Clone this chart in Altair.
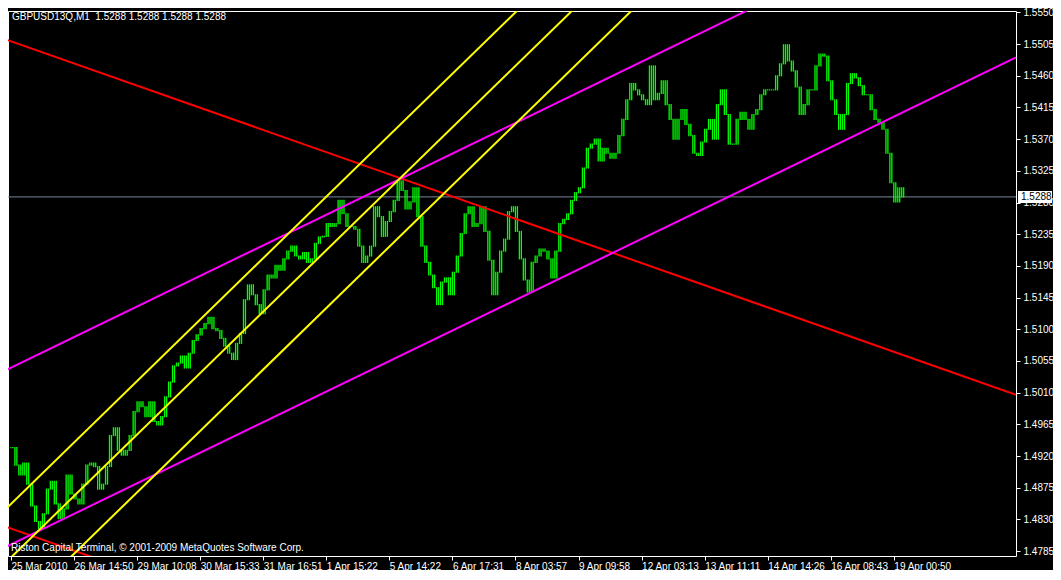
import altair as alt
import pandas as pd

# ---------------- data ----------------
symbol_text = "GBPUSD13Q,M1\u00a0\u00a01.5288 1.5288 1.5288 1.5288"
copyright_text = "Riston Capital Terminal, \u00a9 2001-2009 MetaQuotes Software Corp."
bid_price = 1.5288

# closes, one every 2 bars
closes = [
    1.4932, 1.4907, 1.4893, 1.4910, 1.4880, 1.4849, 1.4827, 1.4817, 1.4838, 1.4873,
    1.4884, 1.4852, 1.4831, 1.4845, 1.4893, 1.4866, 1.4859, 1.4852, 1.4880, 1.4907,
    1.4910, 1.4905, 1.4873, 1.4880, 1.4905, 1.4949, 1.4960, 1.4928, 1.4921, 1.4928,
    1.4949, 1.4983, 1.4997, 1.4990, 1.4976, 1.4997, 1.4969, 1.4964, 1.4976, 1.5004,
    1.5025, 1.5048, 1.5052, 1.5062, 1.5045, 1.5066, 1.5084, 1.5092, 1.5101, 1.5108,
    1.5117, 1.5101, 1.5098, 1.5087, 1.5076, 1.5066, 1.5057, 1.5080, 1.5094, 1.5142,
    1.5163, 1.5149, 1.5135, 1.5122, 1.5156, 1.5177, 1.5173, 1.5191, 1.5184, 1.5200,
    1.5211, 1.5218, 1.5204, 1.5200, 1.5209, 1.5195, 1.5200, 1.5222, 1.5231, 1.5232,
    1.5250, 1.5246, 1.5250, 1.5283, 1.5264, 1.5246, 1.5246, 1.5242, 1.5218, 1.5195,
    1.5204, 1.5218, 1.5274, 1.5260, 1.5232, 1.5253, 1.5267, 1.5283, 1.5311, 1.5297,
    1.5271, 1.5281, 1.5301, 1.5260, 1.5218, 1.5195, 1.5177, 1.5159, 1.5135, 1.5167,
    1.5173, 1.5149, 1.5181, 1.5204, 1.5236, 1.5264, 1.5274, 1.5246, 1.5250, 1.5274,
    1.5239, 1.5198, 1.5149, 1.5181, 1.5211, 1.5228, 1.5267, 1.5274, 1.5239, 1.5200,
    1.5170, 1.5153, 1.5195, 1.5204, 1.5214, 1.5211, 1.5200, 1.5173, 1.5211, 1.5250,
    1.5256, 1.5264, 1.5283, 1.5294, 1.5301, 1.5329, 1.5357, 1.5363, 1.5370, 1.5339,
    1.5357, 1.5350, 1.5343, 1.5350, 1.5375, 1.5398, 1.5426, 1.5449, 1.5440, 1.5433,
    1.5426, 1.5419, 1.5474, 1.5426, 1.5435, 1.5453, 1.5419, 1.5398, 1.5370, 1.5398,
    1.5412, 1.5391, 1.5375, 1.5350, 1.5347, 1.5366, 1.5384, 1.5398, 1.5370, 1.5419,
    1.5440, 1.5405, 1.5363, 1.5363, 1.5398, 1.5408, 1.5398, 1.5384, 1.5405, 1.5412,
    1.5433, 1.5440, 1.5440, 1.5440, 1.5460, 1.5477, 1.5504, 1.5481, 1.5467, 1.5444,
    1.5405, 1.5419, 1.5440, 1.5440, 1.5474, 1.5491, 1.5488, 1.5453, 1.5426, 1.5405,
    1.5384, 1.5405, 1.5449, 1.5463, 1.5457, 1.5446, 1.5433, 1.5433, 1.5412, 1.5398,
    1.5394, 1.5384, 1.5350, 1.5308, 1.5281, 1.5301, 1.5288,
]
bar_step = 2  # each listed close covers two chart bars

time_labels = [
    "25 Mar 2010", "26 Mar 14:50", "29 Mar 10:08", "30 Mar 15:33", "31 Mar 16:51",
    "1 Apr 15:22", "5 Apr 14:22", "6 Apr 17:31", "8 Apr 03:57", "9 Apr 09:58",
    "12 Apr 03:13", "13 Apr 11:11", "14 Apr 14:26", "16 Apr 08:43", "19 Apr 00:50",
]
label_every = 32

price_ticks = [
    1.4785, 1.4830, 1.4875, 1.4920, 1.4965, 1.5010, 1.5055, 1.5100, 1.5145,
    1.5190, 1.5235, 1.5280, 1.5325, 1.5370, 1.5415, 1.5460, 1.5505, 1.5550,
]

# trend-line objects: two anchor points each (bar, price)
line_names = ["red_upper", "red_lower", "magenta_upper", "magenta_lower",
              "yellow_1", "yellow_2", "yellow_3"]
line_bar_a = [-4, -4, -4, -4, -4, -4, -4]
line_price_a = [1.5513, 1.4821, 1.5040, 1.4789, 1.4841, 1.4765, 1.4683]
line_bar_b = [510, 510, 510, 510, 300, 300, 350]
line_price_b = [1.5007, 1.4315, 1.5738, 1.5486, 1.5670, 1.5594, 1.5648]
line_colors = ["#ff0000", "#ff0000", "#ff00ff", "#ff00ff",
               "#ffff00", "#ffff00", "#ffff00"]

# ---------------- tables ----------------
prev = [closes[0]] + closes[:-1]
half_px = 0.00008
rows = []
for i, (a, b) in enumerate(zip(prev, closes)):
    lo = min(a, b) - half_px
    hi = max(a, b) + half_px
    for k in range(bar_step):
        rows.append({"bar": bar_step * i + k, "lo": lo, "hi": hi})
price_df = pd.DataFrame(rows)

lines_df = pd.DataFrame({
    "name": line_names + line_names,
    "bar": line_bar_a + line_bar_b,
    "price": line_price_a + line_price_b,
})

# ---------------- layout ----------------
W, H = 1008, 545
FONT = "Liberation Sans"
FS = 10

x_scale = alt.Scale(domain=[-1.5, 510], nice=False, zero=False)
y_scale = alt.Scale(domain=[1.4778, 1.5552], nice=False, zero=False)

label_array = "[" + ",".join("'" + t + "'" for t in time_labels) + "]"
x_axis = alt.Axis(
    values=[label_every * i for i in range(len(time_labels))],
    labelExpr=label_array + "[round(datum.value/" + str(label_every) + ")]",
    orient="bottom", title=None, grid=False, domain=False,
    tickColor="white", tickSize=4, labelColor="white", labelAlign="left",
    labelBaseline="top", labelPadding=1, labelFont=FONT, labelFontSize=FS,
    labelOverlap=False, labelFlush=False, labelBound=False,
)
y_axis = alt.Axis(
    values=price_ticks, format=".4f", orient="right", title=None, grid=False,
    domain=False, tickColor="white", tickSize=4, labelColor="white",
    labelPadding=3, labelFont=FONT, labelFontSize=FS, labelOverlap=False,
    labelFlush=False, labelBound=False,
)

bid_line = alt.Chart(pd.DataFrame({"p": [bid_price]})).mark_rule(
    color="#778899", strokeWidth=1
).encode(y=alt.Y("p:Q", scale=y_scale, axis=y_axis))

bars = alt.Chart(price_df).mark_rule(color="#00ff00", strokeWidth=1.3).encode(
    x=alt.X("bar:Q", scale=x_scale, axis=x_axis),
    y=alt.Y("lo:Q", scale=y_scale, axis=y_axis),
    y2="hi:Q",
)

trend = alt.Chart(lines_df).mark_line(clip=True, strokeWidth=2).encode(
    x=alt.X("bar:Q", scale=x_scale, axis=x_axis),
    y=alt.Y("price:Q", scale=y_scale, axis=y_axis),
    color=alt.Color("name:N", scale=alt.Scale(domain=line_names, range=line_colors), legend=None),
    detail="name:N",
)

box_half = 0.00085
bid_box = alt.Chart(pd.DataFrame({"lo": [bid_price - box_half], "hi": [bid_price + box_half]})).mark_rect(
    color="white", clip=False
).encode(
    x=alt.value(W + 2), x2=alt.value(W + 36),
    y=alt.Y("lo:Q", scale=y_scale, axis=y_axis), y2="hi:Q",
)
bid_text = alt.Chart(pd.DataFrame({"p": [bid_price], "t": [f"{bid_price:.4f}"]})).mark_text(
    color="black", align="left", baseline="middle", font=FONT, fontSize=FS, clip=False
).encode(
    x=alt.value(W + 5), y=alt.Y("p:Q", scale=y_scale, axis=y_axis), text="t:N",
)

title_text = alt.Chart(pd.DataFrame({"t": [symbol_text]})).mark_text(
    color="white", align="left", baseline="top", font=FONT, fontSize=FS
).encode(x=alt.value(4), y=alt.value(1), text="t:N")

copy_text = alt.Chart(pd.DataFrame({"t": [copyright_text]})).mark_text(
    color="white", align="left", baseline="bottom", font=FONT, fontSize=FS
).encode(x=alt.value(3), y=alt.value(H - 3), text="t:N")

chart = alt.layer(
    bid_line, bars, trend, bid_box, bid_text, title_text, copy_text
).properties(
    width=W, height=H,
    autosize=alt.AutoSizeParams(type="none"),
    padding={"left": 0, "top": 3, "right": 37, "bottom": 14},
).configure(
    background="black"
).configure_view(
    stroke="white", strokeWidth=1, fill="black"
).configure_axis(grid=False, labelOverlap=False)

chart.save("out.html", embed_options={"renderer": "svg", "actions": False})
